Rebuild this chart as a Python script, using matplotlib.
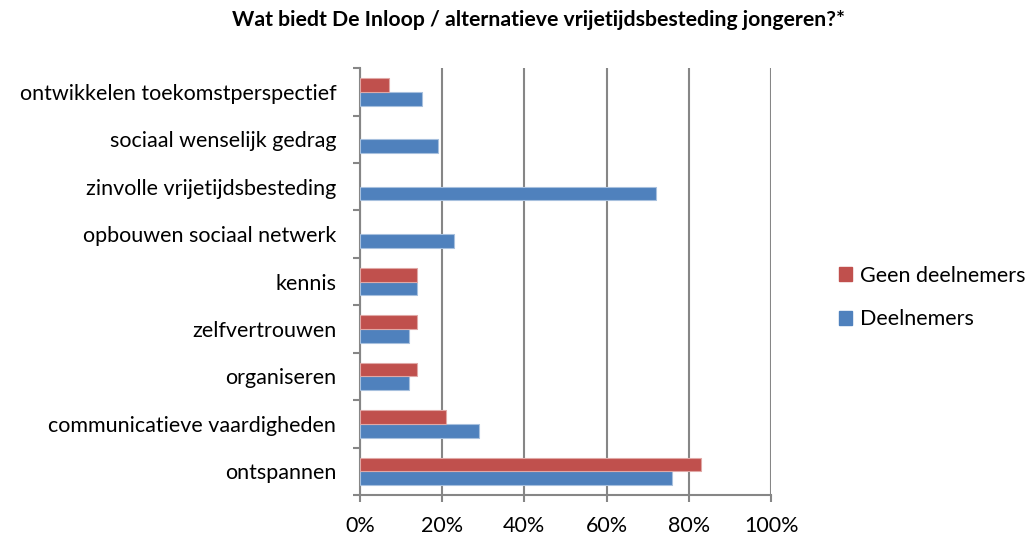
import numpy as np
import matplotlib.pyplot as plt
from matplotlib.patches import Patch

categories = ['ontspannen', 'communicatieve vaardigheden', 'organiseren',
              'zelfvertrouwen', 'kennis', 'opbouwen sociaal netwerk',
              'zinvolle vrijetijdsbesteding', 'sociaal wenselijk gedrag',
              'ontwikkelen toekomstperspectief']
deelnemers = [76, 29, 12, 12, 14, 23, 72, 19, 15]
geen_deelnemers = [83, 21, 14, 14, 14, 0, 0, 0, 7]
xticks = [0, 20, 40, 60, 80, 100]
xlabels = ['0%', '20%', '40%', '60%', '80%', '100%']

plt.rcParams['font.family'] = ['Lato', 'DejaVu Sans']

fig = plt.figure(figsize=(10.31, 5.36), dpi=100)
ax = fig.add_axes([0.349, 0.0765, 0.399, 0.7965])

y = np.arange(len(categories))
h = 0.29
blue_edges = ['#A7C0DE' if v > 0 else 'none' for v in deelnemers]
red_edges = ['#E0A8A6' if v > 0 else 'none' for v in geen_deelnemers]
ax.barh(y - h / 2, deelnemers, height=h, color='#4F81BD', edgecolor=blue_edges, linewidth=0.8, zorder=3)
ax.barh(y + h / 2, geen_deelnemers, height=h, color='#C0504D', edgecolor=red_edges, linewidth=0.8, zorder=3)

ax.set_xlim(0, 100)
ax.set_ylim(-0.5, len(categories) - 0.5)
ax.set_xticks(xticks)
ax.set_xticklabels(xlabels, fontsize=15.5)
ax.set_yticks(y)
ax.set_yticklabels(categories, fontsize=15.5)
ax.tick_params(axis='y', which='major', length=0, pad=17)
ax.set_yticks(np.arange(-0.5, len(categories)), minor=True)
ax.tick_params(axis='y', which='minor', length=5, width=1.5, color='#868686')
ax.tick_params(axis='x', length=5, width=1.5, color='#868686', pad=10)

ax.grid(axis='x', color='#868686', linewidth=1.5, zorder=0)
for s in ['top', 'right']:
    ax.spines[s].set_visible(False)
for s in ['left', 'bottom']:
    ax.spines[s].set_color('#868686')
    ax.spines[s].set_linewidth(1.5)

fig.text(0.522, 0.962, 'Wat biedt De Inloop / alternatieve vrijetijdsbesteding jongeren?*',
         ha='center', va='center', fontsize=15.3, fontweight='bold')

handles = [Patch(color='#C0504D', label='Geen deelnemers'),
           Patch(color='#4F81BD', label='Deelnemers')]
fig.legend(handles=handles, loc='center left', bbox_to_anchor=(0.814, 0.445),
           frameon=False, fontsize=15.5, handlelength=0.6, handleheight=0.6,
           handletextpad=0.35, labelspacing=1.1, borderpad=0, borderaxespad=0)

fig.savefig('out.png', dpi=100)
